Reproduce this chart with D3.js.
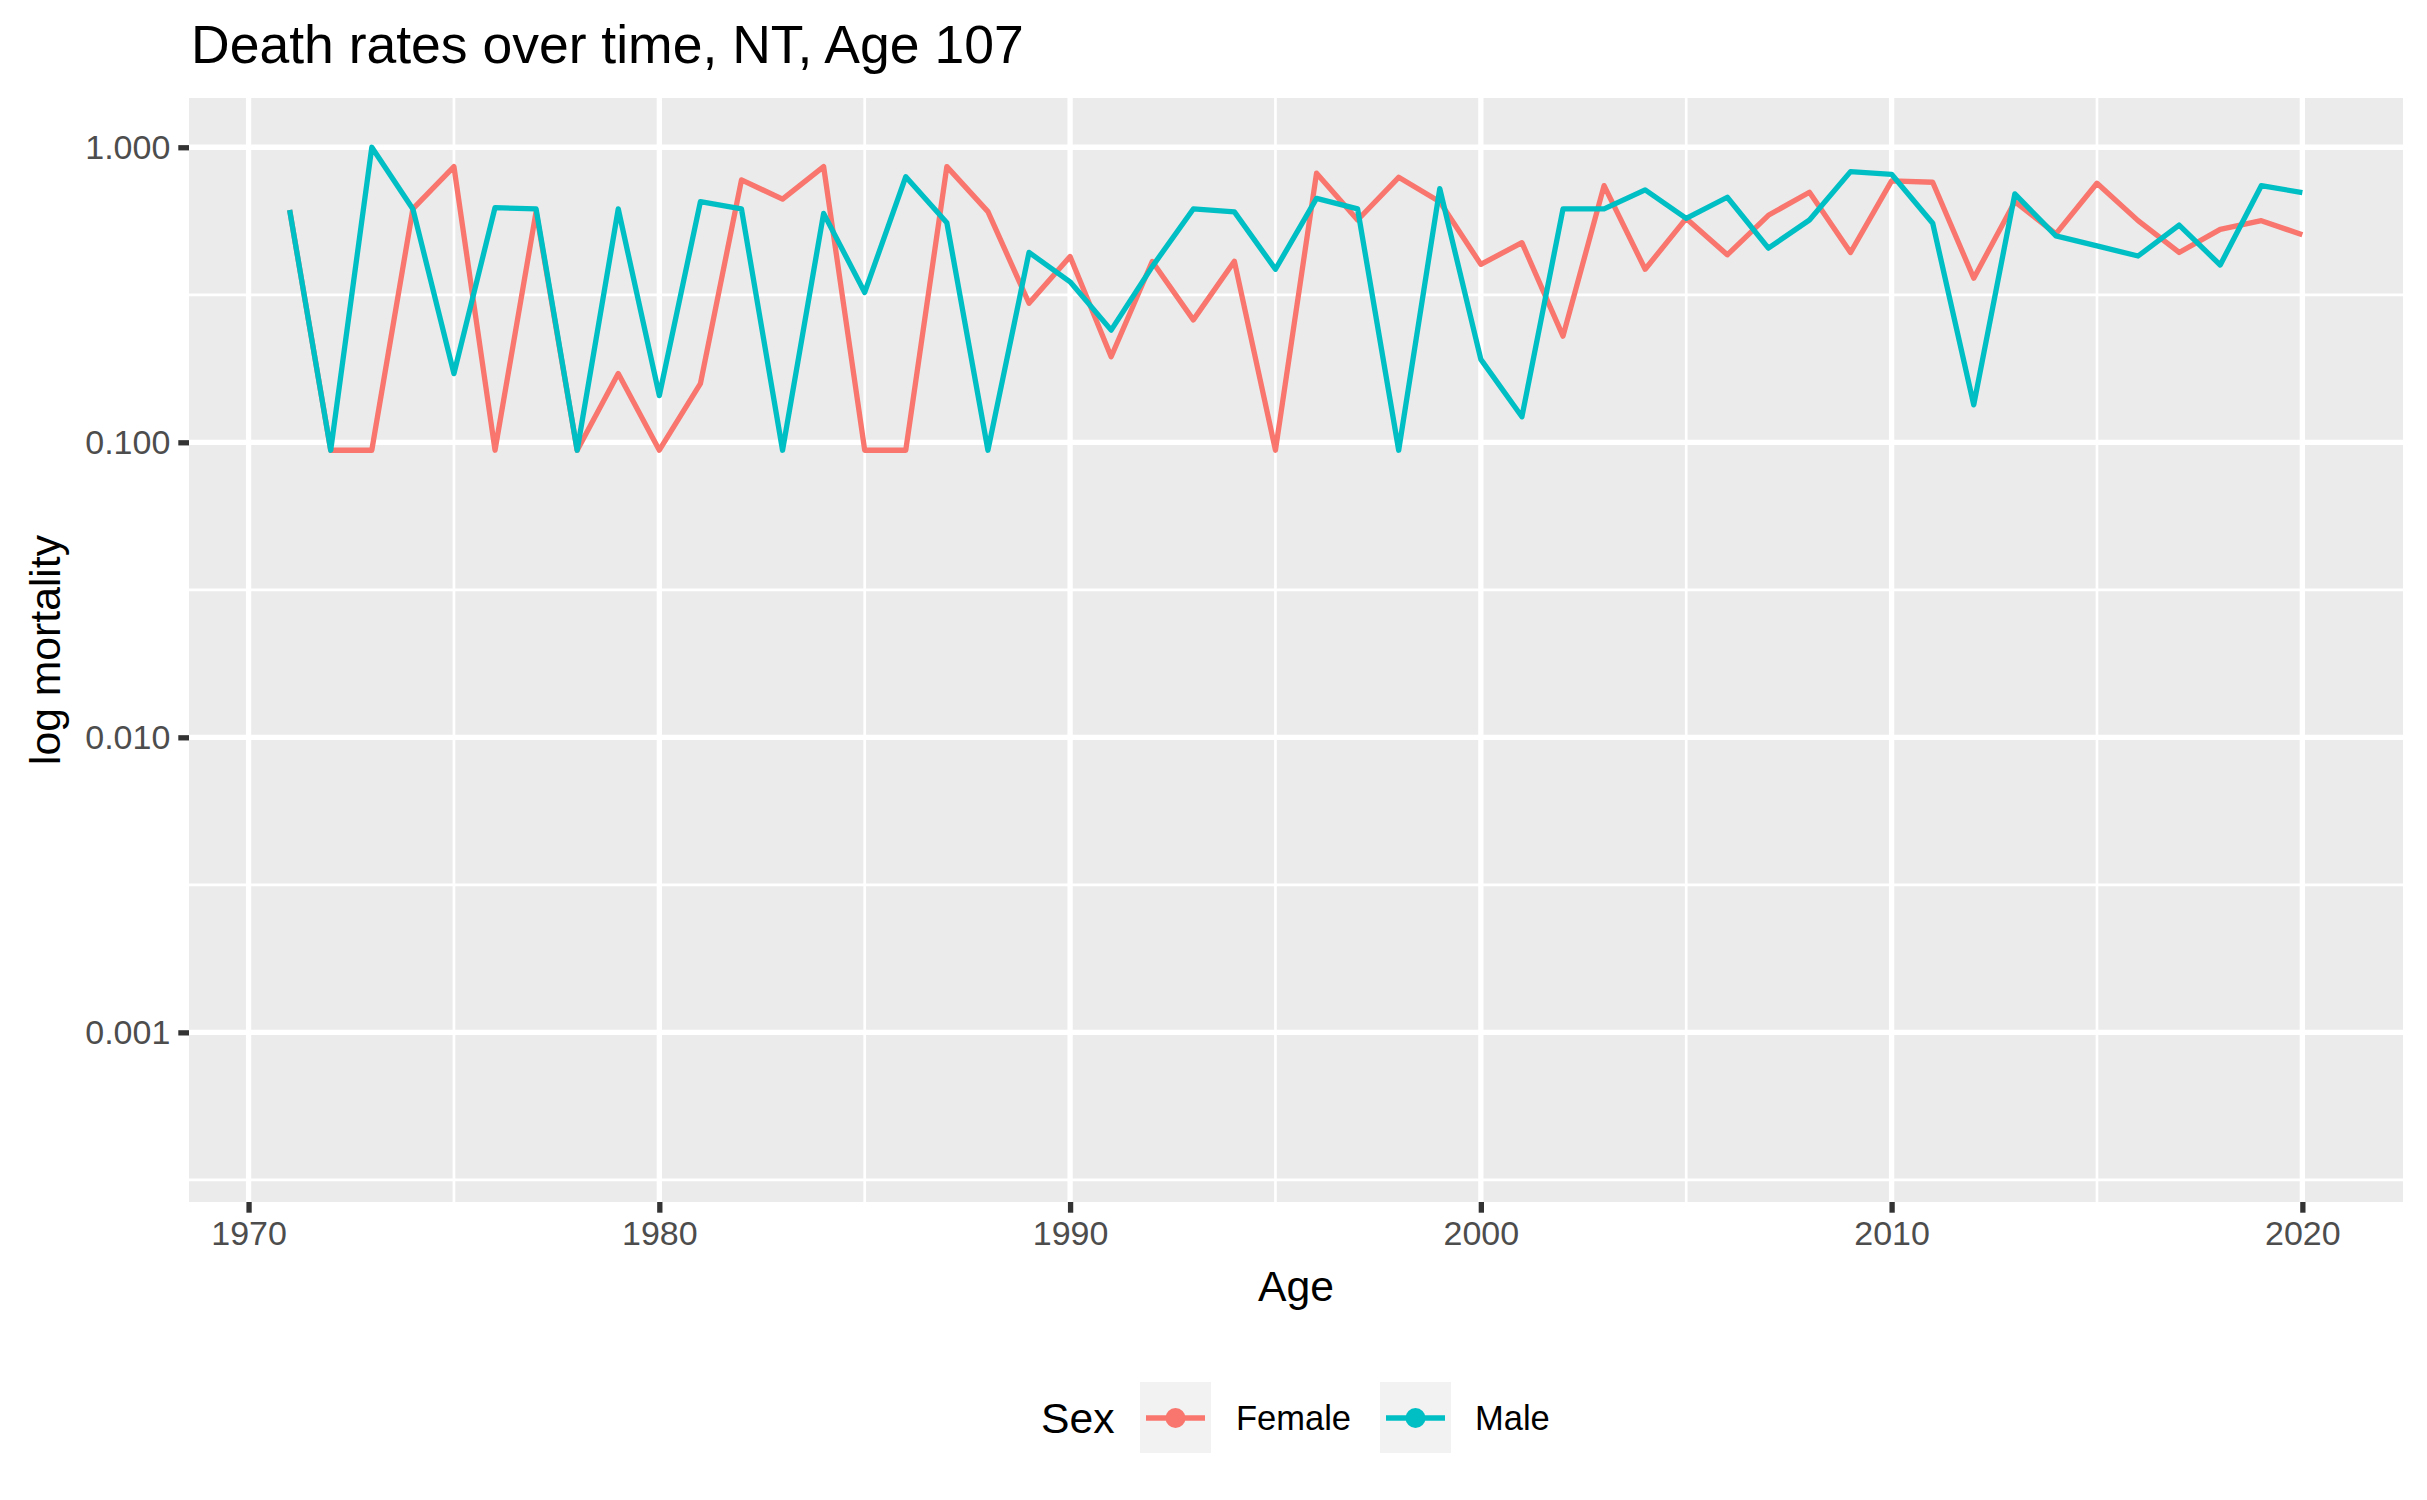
<!DOCTYPE html>
<html>
<head>
<meta charset="utf-8">
<script src="https://cdn.jsdelivr.net/npm/d3@7"></script>
<style>
  body { margin: 0; background: #ffffff; }
  text { font-family: "Liberation Sans", Arial, Helvetica, sans-serif; }
</style>
</head>
<body>
<svg id="chart" width="2427" height="1500"></svg>
<script>
// data
let years = d3.range(1971, 2021);

let female_rate = [
  0.613, 0.094, 0.094, 0.618, 0.860, 0.094, 0.605, 0.094, 0.171, 0.094,
  0.158, 0.775, 0.667, 0.860, 0.094, 0.094, 0.860, 0.605, 0.296, 0.426,
  0.195, 0.410, 0.260, 0.411, 0.094, 0.817, 0.567, 0.791, 0.654, 0.401,
  0.475, 0.229, 0.741, 0.386, 0.574, 0.432, 0.588, 0.704, 0.440, 0.769,
  0.761, 0.360, 0.654, 0.509, 0.755, 0.564, 0.440, 0.527, 0.564, 0.505
];

let male_rate = [
  0.613, 0.094, 1.000, 0.618, 0.171, 0.624, 0.618, 0.094, 0.618, 0.144,
  0.654, 0.618, 0.094, 0.597, 0.322, 0.795, 0.555, 0.094, 0.440, 0.350,
  0.240, 0.394, 0.618, 0.604, 0.386, 0.671, 0.618, 0.094, 0.724, 0.191,
  0.122, 0.618, 0.618, 0.717, 0.574, 0.677, 0.455, 0.567, 0.827, 0.810,
  0.553, 0.134, 0.695, 0.501, 0.463, 0.428, 0.545, 0.399, 0.741, 0.702
];

let series_names = ["Female", "Male"];
let series_colors = ["#F8766D", "#00BFC4"];

let x_ticks = [1970, 1980, 1990, 2000, 2010, 2020];
let x_minor = [1975, 1985, 1995, 2005, 2015];
let y_ticks = [0.001, 0.01, 0.1, 1];
let y_tick_labels = ["0.001", "0.010", "0.100", "1.000"];
let y_minor = [Math.pow(10, -3.5), Math.pow(10, -2.5), Math.pow(10, -1.5), Math.pow(10, -0.5)];

function make_chart() {
  let svg = d3.select("#chart");

  // panel box
  let left = 189, right = 2403, top = 98, bottom = 1202;

  let x = d3.scaleLinear()
    .domain([1968.55, 2022.45])
    .range([left, right]);

  let y = d3.scaleLog()
    .domain([Math.pow(10, -3.575), Math.pow(10, 0.167)])
    .range([bottom, top]);

  svg.append("rect")
    .attr("width", 2427).attr("height", 1500)
    .attr("fill", "#ffffff");

  svg.append("rect")
    .attr("x", left).attr("y", top)
    .attr("width", right - left).attr("height", bottom - top)
    .attr("fill", "#EBEBEB");

  // minor grid
  svg.append("g").selectAll("line")
    .data(y_minor).join("line")
    .attr("x1", left).attr("x2", right)
    .attr("y1", d => y(d)).attr("y2", d => y(d))
    .attr("stroke", "#ffffff").attr("stroke-width", 2.7);

  svg.append("g").selectAll("line")
    .data(x_minor).join("line")
    .attr("x1", d => x(d)).attr("x2", d => x(d))
    .attr("y1", top).attr("y2", bottom)
    .attr("stroke", "#ffffff").attr("stroke-width", 2.7);

  // major grid
  svg.append("g").selectAll("line")
    .data(y_ticks).join("line")
    .attr("x1", left).attr("x2", right)
    .attr("y1", d => y(d)).attr("y2", d => y(d))
    .attr("stroke", "#ffffff").attr("stroke-width", 5.3);

  svg.append("g").selectAll("line")
    .data(x_ticks).join("line")
    .attr("x1", d => x(d)).attr("x2", d => x(d))
    .attr("y1", top).attr("y2", bottom)
    .attr("stroke", "#ffffff").attr("stroke-width", 5.3);

  // lines
  let all_rates = [female_rate, male_rate];
  let line = d3.line()
    .x((d, i) => x(years[i]))
    .y(d => y(d));

  svg.append("g").selectAll("path")
    .data(all_rates).join("path")
    .attr("d", d => line(d))
    .attr("fill", "none")
    .attr("stroke", (d, i) => series_colors[i])
    .attr("stroke-width", 5.3)
    .attr("stroke-linejoin", "round");

  // x axis
  let x_axis = d3.axisBottom(x)
    .tickValues(x_ticks)
    .tickFormat(d3.format("d"))
    .tickSize(10.7)
    .tickPadding(8);
  let gx = svg.append("g")
    .attr("transform", `translate(0,${bottom})`)
    .call(x_axis);
  gx.select(".domain").remove();
  gx.selectAll(".tick line").attr("stroke", "#333333").attr("stroke-width", 5.3);
  gx.selectAll(".tick text")
    .attr("fill", "#4D4D4D")
    .style("font-size", "34px")
    .style("font-family", "'Liberation Sans', Arial, sans-serif");

  // y axis
  let y_axis = d3.axisLeft(y)
    .tickValues(y_ticks)
    .tickFormat((d, i) => y_tick_labels[i])
    .tickSize(10.7)
    .tickPadding(8);
  let gy = svg.append("g")
    .attr("transform", `translate(${left},0)`)
    .call(y_axis);
  gy.select(".domain").remove();
  gy.selectAll(".tick line").attr("stroke", "#333333").attr("stroke-width", 5.3);
  gy.selectAll(".tick text")
    .attr("fill", "#4D4D4D")
    .style("font-size", "34px")
    .style("font-family", "'Liberation Sans', Arial, sans-serif");

  // titles
  svg.append("text")
    .attr("x", left + 2).attr("y", 63)
    .style("font-size", "53.5px")
    .attr("fill", "#000000")
    .text("Death rates over time, NT, Age 107");

  svg.append("text")
    .attr("x", (left + right) / 2).attr("y", 1301)
    .attr("text-anchor", "middle")
    .style("font-size", "42.7px")
    .text("Age");

  svg.append("text")
    .attr("transform", `translate(60,${(top + bottom) / 2}) rotate(-90)`)
    .attr("text-anchor", "middle")
    .style("font-size", "42.7px")
    .text("log mortality");

  // legend
  let legend = svg.append("g");
  legend.append("text")
    .attr("x", 1041).attr("y", 1433)
    .style("font-size", "42.7px")
    .text("Sex");

  let key_x = [1140, 1380];
  let label_x = [1236, 1475];
  series_names.forEach(function (name, i) {
    legend.append("rect")
      .attr("x", key_x[i]).attr("y", 1382)
      .attr("width", 71).attr("height", 71)
      .attr("fill", "#F2F2F2");
    legend.append("line")
      .attr("x1", key_x[i] + 6).attr("x2", key_x[i] + 65)
      .attr("y1", 1418).attr("y2", 1418)
      .attr("stroke", series_colors[i]).attr("stroke-width", 5.3);
    legend.append("circle")
      .attr("cx", key_x[i] + 35.5).attr("cy", 1418)
      .attr("r", 10)
      .attr("fill", series_colors[i]);
    legend.append("text")
      .attr("x", label_x[i]).attr("y", 1430)
      .style("font-size", "34.5px")
      .text(name);
  });
}

make_chart();
</script>
</body>
</html>
